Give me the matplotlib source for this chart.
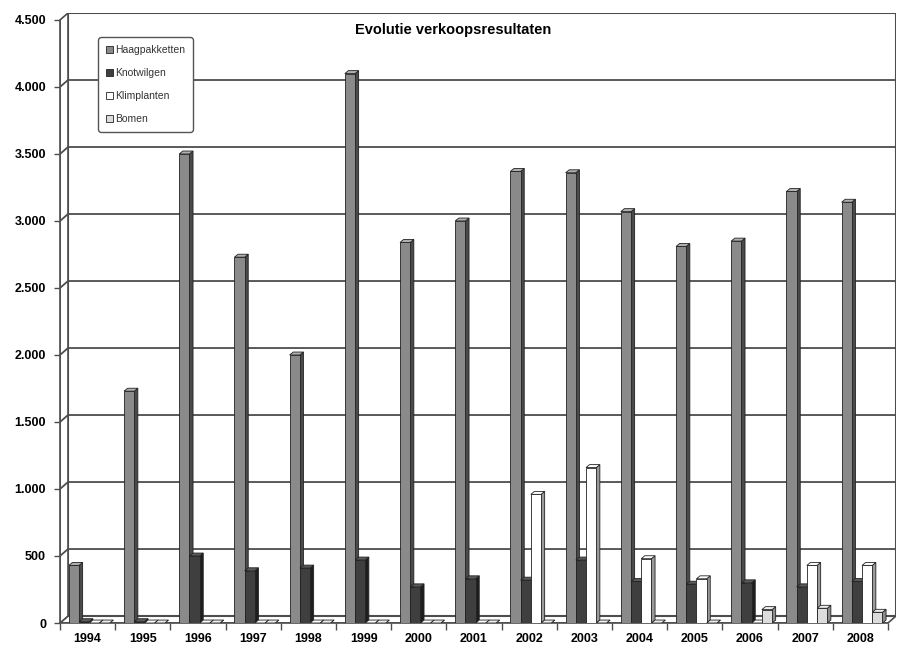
import matplotlib
matplotlib.use("Agg")
import matplotlib.pyplot as plt
from matplotlib.patches import Polygon, Patch
from matplotlib.ticker import FuncFormatter, FixedLocator

plt.rcParams['font.family'] = ['Liberation Sans', 'DejaVu Sans']

years = ['1994', '1995', '1996', '1997', '1998', '1999', '2000', '2001',
         '2002', '2003', '2004', '2005', '2006', '2007', '2008']
series = ['Haagpakketten', 'Knotwilgen', 'Klimplanten', 'Bomen']
haag = [430, 1730, 3500, 2730, 2000, 4100, 2840, 3000, 3370, 3360, 3070, 2810, 2850, 3220, 3140]
knot = [10, 10, 500, 390, 410, 470, 270, 330, 320, 470, 310, 290, 300, 270, 310]
klim = [0, 0, 0, 0, 0, 0, 0, 0, 960, 1160, 480, 330, 0, 430, 430]
bomen = [0, 0, 0, 0, 0, 0, 0, 0, 0, 0, 0, 0, 100, 110, 80]
yticks = [0, 500, 1000, 1500, 2000, 2500, 3000, 3500, 4000, 4500]

values = [haag, knot, klim, bomen]
front = ['#8a8a8a', '#3f3f3f', '#ffffff', '#dcdcdc']
side = ['#4a4a4a', '#1e1e1e', '#9a9a9a', '#8c8c8c']
top = ['#b0b0b0', '#5a5a5a', '#ffffff', '#efefef']

n = len(years)
ymax = yticks[-1]
# depth of the walls and of the bars (data units)
wdx, wdy = 0.145, 52
bdx, bdy = 0.065, 22
bw = 0.185
off = 0.16
line_c = '#4d4d4d'

fig = plt.figure(figsize=(9, 6.5), dpi=100)
ax = fig.add_axes([60 / 900, 27 / 650, 836 / 900, 610 / 650])
ax.set_xlim(0, n + wdx)
ax.set_ylim(0, ymax + wdy)

# walls and floor
ax.add_patch(Polygon([(0, 0), (n, 0), (n + wdx, wdy), (wdx, wdy)],
                     closed=True, fc='white', ec=line_c, lw=1.2, zorder=1))
ax.add_patch(Polygon([(wdx, wdy), (n + wdx, wdy), (n + wdx, ymax + wdy), (wdx, ymax + wdy)],
                     closed=True, fc='white', ec=line_c, lw=1.5, zorder=1))
ax.add_patch(Polygon([(0, 0), (wdx, wdy), (wdx, ymax + wdy), (0, ymax)],
                     closed=True, fc='white', ec=line_c, lw=1.2, zorder=1))
for v in yticks[1:-1]:
    ax.plot([0, wdx, n + wdx], [v, v + wdy, v + wdy], color=line_c, lw=1.3, zorder=2)

# 3D looking columns
for c in range(n):
    for s in range(4):
        x = c + off + s * bw
        v = values[s][c]
        ax.add_patch(Polygon([(x + bw, 0), (x + bw + bdx, bdy), (x + bw + bdx, v + bdy), (x + bw, v)],
                             closed=True, fc=side[s], ec='#222222', lw=0.6, zorder=3))
        ax.add_patch(Polygon([(x, v), (x + bdx, v + bdy), (x + bw + bdx, v + bdy), (x + bw, v)],
                             closed=True, fc=top[s], ec='#222222', lw=0.6, zorder=3))
        ax.bar(x, v, width=bw, align='edge', color=front[s], edgecolor='#222222',
               linewidth=0.6, zorder=3)

for sp in ['top', 'right']:
    ax.spines[sp].set_visible(False)
ax.spines['left'].set_bounds(0, ymax)
ax.spines['bottom'].set_bounds(0, n)
ax.spines['left'].set_color(line_c)
ax.spines['bottom'].set_color(line_c)
ax.spines['left'].set_linewidth(1.2)
ax.spines['bottom'].set_linewidth(1.2)

ax.set_yticks(yticks)
ax.yaxis.set_major_formatter(FuncFormatter(lambda v, p: f"{v:,.0f}".replace(",", ".")))
ax.tick_params(axis='y', length=4, width=1, color=line_c, pad=6, labelsize=9)
for lab in ax.get_yticklabels():
    lab.set_fontweight('bold')

ax.xaxis.set_major_locator(FixedLocator(list(range(n + 1))))
ax.xaxis.set_minor_locator(FixedLocator([c + 0.5 for c in range(n)]))
ax.set_xticklabels([])
ax.set_xticklabels(years, minor=True, fontweight='bold', fontsize=9)
ax.tick_params(axis='x', which='major', length=5, width=1, color=line_c)
ax.tick_params(axis='x', which='minor', length=0, pad=7)

fig.text(453 / 900, 1 - 30 / 650, 'Evolutie verkoopsresultaten', ha='center', va='center',
         fontsize=10.5, fontweight='bold')

handles = [Patch(fc=front[s], ec='#222222', lw=0.6) for s in range(4)]
leg = fig.legend(handles, series, loc='upper left', bbox_to_anchor=(98 / 900, 1 - 37 / 650),
                 fontsize=7.5, handlelength=0.65, handleheight=0.65, handletextpad=0.25,
                 labelspacing=1.25, borderpad=0.75, borderaxespad=0, fancybox=True,
                 framealpha=1, edgecolor='#555555')
leg.get_frame().set_linewidth(1.0)
leg.get_frame().set_boxstyle('round', pad=0, rounding_size=0.3)
for t in leg.get_texts():
    t.set_color('#333333')
leg.set_zorder(10)

fig.savefig('out.png', dpi=100)
